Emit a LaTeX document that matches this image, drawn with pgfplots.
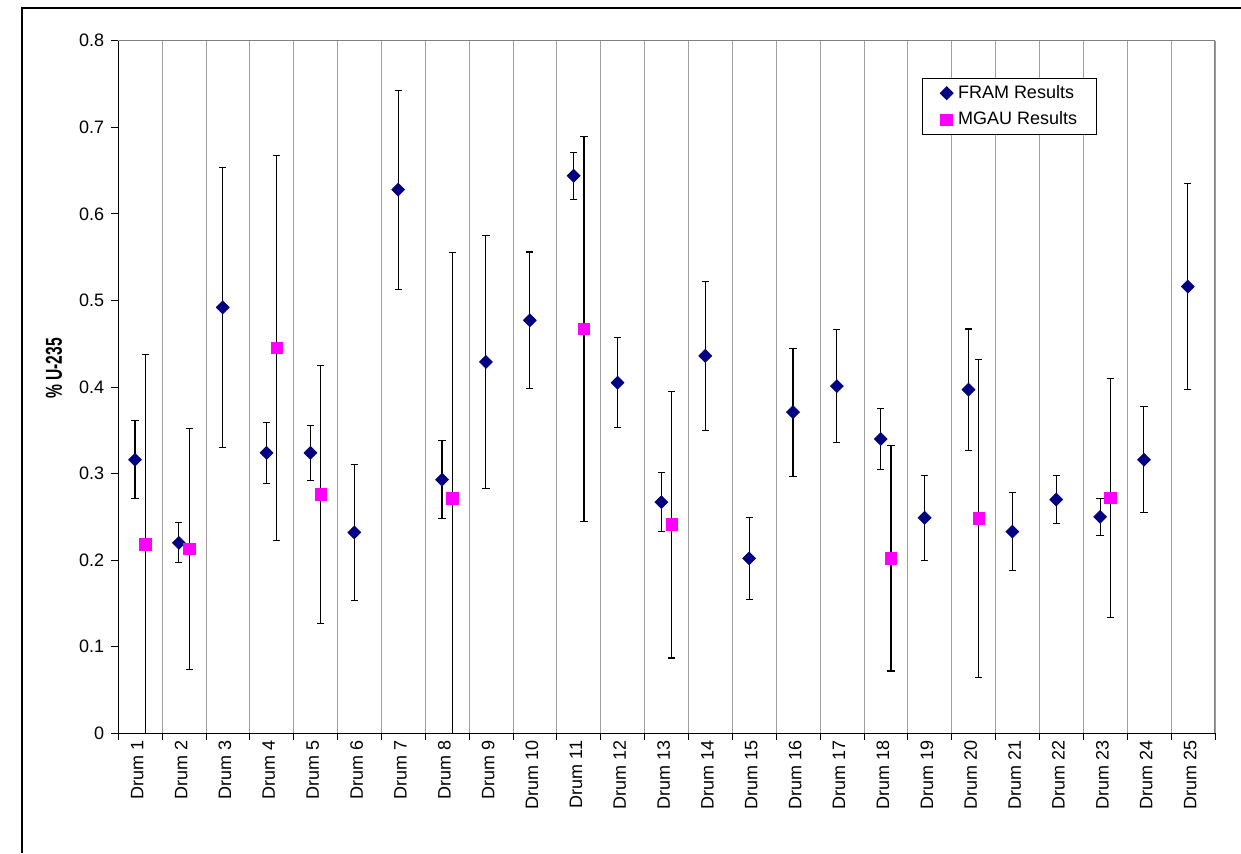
\documentclass[border=0pt]{standalone}
\usepackage{pgfplots}
\pgfplotsset{compat=1.18}
\usepackage{graphicx}
\usepackage{fontspec}
\setmainfont{Liberation Sans}
\definecolor{fram}{HTML}{000080}
\definecolor{mgau}{HTML}{FF00FF}
\definecolor{gridgray}{HTML}{A0A0A0}
\definecolor{bordergray}{HTML}{808080}
\newcommand{\D}[1]{Drum #1}

\pgfplotstableread{
x      y      ep     em
-0.12  0.316  0.045  0.045
0.88   0.220  0.023  0.023
1.88   0.492  0.162  0.162
2.88   0.324  0.035  0.035
3.88   0.324  0.032  0.032
4.88   0.232  0.079  0.079
5.88   0.628  0.115  0.115
6.88   0.293  0.045  0.045
7.88   0.429  0.146  0.146
8.88   0.477  0.079  0.079
9.88   0.644  0.027  0.027
10.88  0.405  0.052  0.052
11.88  0.267  0.034  0.034
12.88  0.436  0.086  0.086
13.88  0.202  0.047  0.047
14.88  0.371  0.074  0.074
15.88  0.401  0.065  0.065
16.88  0.340  0.035  0.035
17.88  0.249  0.049  0.049
18.88  0.397  0.070  0.070
19.88  0.233  0.045  0.045
20.88  0.270  0.028  0.028
21.88  0.250  0.021  0.021
22.88  0.316  0.061  0.061
23.88  0.516  0.119  0.119
}\framdata

\pgfplotstableread{
x      y      ep     em
0.115  0.218  0.220  0.218
1.115  0.213  0.139  0.139
3.115  0.445  0.222  0.222
4.115  0.276  0.149  0.149
7.115  0.271  0.284  0.271
10.115 0.467  0.222  0.222
12.115 0.241  0.154  0.154
17.115 0.202  0.130  0.130
19.115 0.248  0.184  0.184
22.115 0.272  0.138  0.138
}\mgaudata

\begin{document}
\begin{tikzpicture}[x=1pt,y=1pt]
\useasboundingbox (0,0) rectangle (620.5,426.5);
\draw[black, line width=1pt] (11,0) -- (11,422.5) -- (620.5,422.5);
\begin{axis}[
  at={(59.15pt,59.85pt)}, anchor=south west,
  width=548.35pt, height=346.3pt, scale only axis,
  xmin=-0.5, xmax=24.5, ymin=0, ymax=0.8,
  axis x line*=bottom, axis y line*=left,
  axis line style={black, line width=0.65pt},
  tick align=outside,
  major tick length=3.5pt,
  tick style={black, line width=0.5pt},
  tick label style={font=\fontsize{9}{11}\selectfont},
  xtick={-0.5,0.5,...,24.5}, xticklabels={},
  xmajorgrids, major grid style={gridgray, line width=0.5pt},
  extra x ticks={0,1,...,24},
  extra x tick labels={\D1,\D2,\D3,\D4,\D5,\D6,\D7,\D8,\D9,\D{10},\D{11},\D{12},\D{13},\D{14},\D{15},\D{16},\D{17},\D{18},\D{19},\D{20},\D{21},\D{22},\D{23},\D{24},\D{25}},
  x tick label style={xshift=-1.5pt, rotate=90, anchor=east},
  extra x tick style={major tick length=0pt, grid=none},
  ytick={0,0.1,0.2,0.3,0.4,0.5,0.6,0.7,0.8},
  yticklabel style={/pgf/number format/fixed, /pgf/number format/precision=1},
  /pgf/number format/assume math mode=true,
  ylabel={\fontsize{11.5}{13}\selectfont\bfseries\scalebox{0.68}[1]{\% U-235}},
  ylabel style={at={(axis description cs:-0.0586,0.527)}, anchor=center},
  legend style={at={(0.733,0.9466)}, anchor=north west, draw=black, line width=0.5pt,
     font=\fontsize{9}{10}\selectfont, inner xsep=8.8pt, inner ysep=2.5pt,
     nodes={inner sep=1pt}, row sep=3.3pt, column sep=1.5pt},
  legend cell align=left,
]
\addplot[only marks, mark=square*, mark size=2.25pt,
   mark options={rotate=45, draw=fram, fill=fram},
   error bars/.cd, y dir=both, y explicit,
   error bar style={black, line width=0.55pt},
   error mark options={rotate=90, black, mark size=1.8pt, line width=0.55pt}]
   table[x=x, y=y, y error plus=ep, y error minus=em] {\framdata};
\addlegendentry{FRAM Results}
\addplot[only marks, mark=square*, mark size=2.9pt,
   mark options={draw=mgau, fill=mgau},
   error bars/.cd, y dir=both, y explicit,
   error bar style={black, line width=0.55pt},
   error mark options={rotate=90, black, mark size=1.8pt, line width=0.55pt}]
   table[x=x, y=y, y error plus=ep, y error minus=em] {\mgaudata};
\addlegendentry{MGAU Results}
\draw[bordergray, line width=0.7pt] (rel axis cs:0,1) -- (rel axis cs:1,1) -- (rel axis cs:1,0);
\end{axis}
\end{tikzpicture}
\end{document}
